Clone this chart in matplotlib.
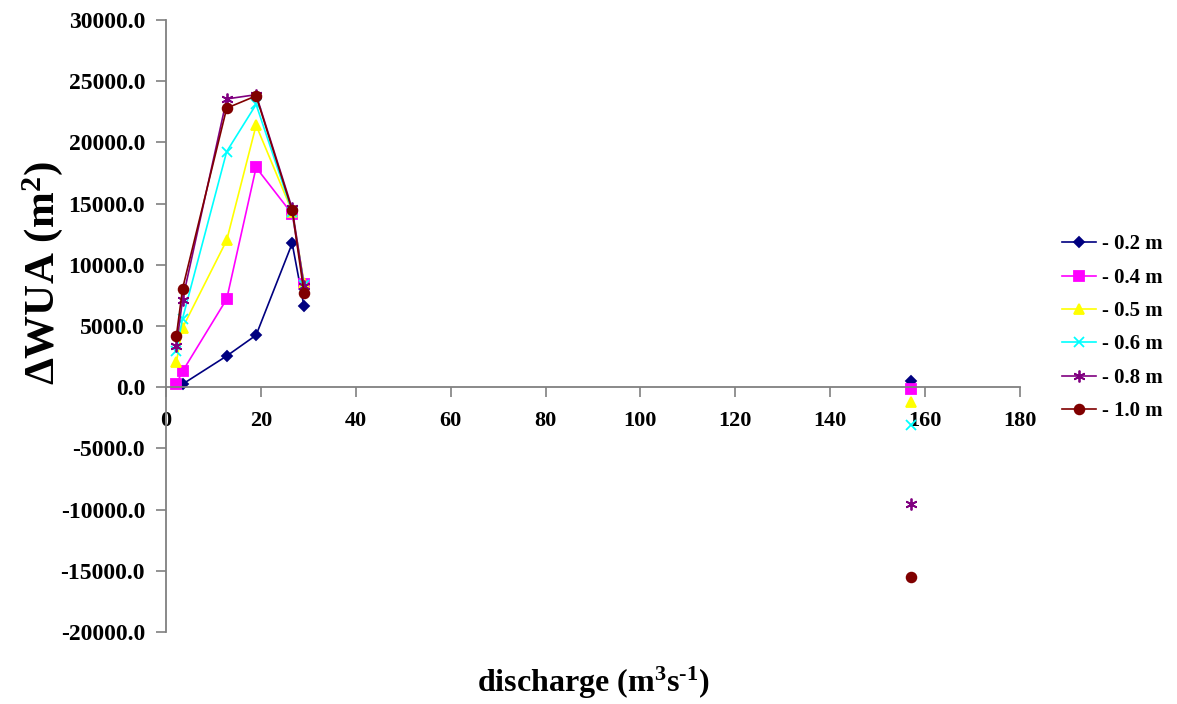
import numpy as np
import matplotlib
matplotlib.use("Agg")
import matplotlib.pyplot as plt

plt.rcParams["font.family"] = ["Liberation Serif", "DejaVu Serif"]
plt.rcParams["font.weight"] = "bold"
plt.rcParams["mathtext.fontset"] = "custom"
plt.rcParams["mathtext.rm"] = "Liberation Serif:bold"
plt.rcParams["mathtext.it"] = "Liberation Serif:bold"
plt.rcParams["mathtext.bf"] = "Liberation Serif:bold"

# discharge values; NaN breaks the line before the isolated high-flow point
discharge = [2.2, 3.5, 12.8, 19.0, 26.6, 29.1, np.nan, 157.0]

dwua_02 = [np.nan, 250, 2550, 4250, 11750, 6600, np.nan, 500]
dwua_04 = [280, 1300, 7200, 17950, 14150, 8450, np.nan, -180]
dwua_05 = [2050, 4850, 12000, 21400, 14350, 8550, np.nan, -1200]
dwua_06 = [2950, 5600, 19250, 23100, 14350, 8350, np.nan, -3050]
dwua_08 = [3400, 7150, 23550, 23900, 14600, 8300, np.nan, -9550]
dwua_10 = [4200, 8050, 22800, 23800, 14450, 7700, np.nan, -15500]

series_labels = ["- 0.2 m", "- 0.4 m", "- 0.5 m", "- 0.6 m", "- 0.8 m", "- 1.0 m"]
x_ticks = list(range(0, 181, 20))
y_ticks = list(range(-20000, 30001, 5000))

styles = [
    ("#000080", "D", 5.5),
    ("#FF00FF", "s", 6.5),
    ("#FFFF00", "^", 7),
    ("#00FFFF", "x", 6.5),
    ("#800080", (6, 2, 0), 8.5),
    ("#800000", "o", 7),
]

fig = plt.figure(figsize=(11.77, 7.04), dpi=100)
ax = fig.add_axes([0.141, 0.1023, 0.7256, 0.8693])

for vals, lab, (col, mk, ms) in zip(
        [dwua_02, dwua_04, dwua_05, dwua_06, dwua_08, dwua_10], series_labels, styles):
    ax.plot(discharge, vals, color=col, lw=1.2, marker=mk, markersize=ms,
            markerfacecolor=col, markeredgecolor=col, markeredgewidth=1.3,
            label=lab, clip_on=False)

ax.set_xlim(0, 180)
ax.set_ylim(-20000, 30000)
ax.set_xticks(x_ticks)
ax.set_yticks(y_ticks)
ax.set_yticklabels([f"{v:.1f}" for v in y_ticks])

ax.spines["top"].set_visible(False)
ax.spines["right"].set_visible(False)
ax.spines["bottom"].set_position(("data", 0))
ax.spines["left"].set_color("#808080")
ax.spines["bottom"].set_color("#808080")
ax.spines["left"].set_linewidth(1.3)
ax.spines["bottom"].set_linewidth(1.3)

ax.tick_params(axis="y", direction="out", length=7, width=1.2, color="#808080",
               labelsize=17, pad=8)
ax.tick_params(axis="x", direction="out", length=7, width=1.2, color="#808080",
               labelsize=16, pad=10)
for t in ax.get_xticklabels() + ax.get_yticklabels():
    t.set_fontweight("bold")

fig.text(0.0365, 0.612, r"$\Delta$WUA (m$^{2}$)", fontsize=31, fontweight="bold",
         rotation=90, ha="center", va="center")
fig.text(0.504, 0.017, "discharge (m$^{3}$s$^{\u20101}$)",
         fontsize=23, fontweight="bold", ha="center", va="baseline")

leg = ax.legend(loc="center left", bbox_to_anchor=(1.049, 0.497), frameon=False,
                fontsize=15, handlelength=1.65, handletextpad=0.3,
                labelspacing=0.64, borderaxespad=0, borderpad=0)
for t in leg.get_texts():
    t.set_fontweight("bold")

fig.savefig("out.png", dpi=100, facecolor="white")
